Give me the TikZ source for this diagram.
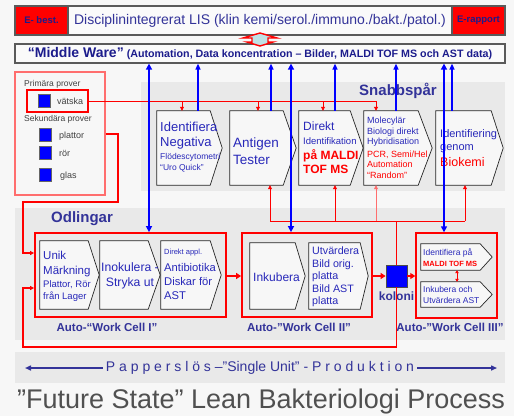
\documentclass[tikz,border=0pt]{standalone}
\usepackage{fontspec}
\setmainfont{Liberation Sans}
\usetikzlibrary{arrows.meta,fit}

\newcommand\setfs[2]{\fontsize{#1}{#2}\selectfont}

\definecolor{bgc}{RGB}{247,247,247}
\definecolor{zone}{RGB}{233,233,233}
\definecolor{hdblue}{RGB}{51,51,153}
\definecolor{txblue}{RGB}{40,40,185}
\definecolor{navy}{RGB}{28,28,140}
\definecolor{lnblue}{RGB}{0,0,255}
\definecolor{framegray}{RGB}{90,90,90}
\definecolor{paleblue}{RGB}{190,225,228}
\definecolor{softred}{RGB}{255,110,110}
\definecolor{titlegray}{RGB}{80,80,80}

% chevron body: name, two corners of the rectangular part, depth of the point
\newcommand\chevron[4]{%
  \node[fit={#2 #3}, inner sep=0pt] (#1) {};
  \filldraw[chevstyle] (#1.north west) -- (#1.north east) -- ([xshift=#4]#1.east)
    -- (#1.south east) -- (#1.south west) -- cycle;
}

\tikzset{
  zonebg/.style={inner sep=0pt, fill=zone, draw=none},
  topbar/.style={inner sep=0pt, draw=framegray, line width=1.2pt, fill=white!98!black},
  chevstyle/.style={draw=black!85, fill=white!97!black, line width=0.7pt},
  cellframe/.style={inner sep=0pt, draw=red, line width=1.8pt},
  btxt/.style={text=txblue, align=left, inner sep=0pt, anchor=west},
  rtxt/.style={text=red, align=left, inner sep=0pt, anchor=west},
  zonetitle/.style={text=hdblue, inner sep=0pt, font=\bfseries\setfs{15}{18}},
  cellname/.style={text=hdblue, inner sep=0pt, font=\bfseries\setfs{11.5}{13}},
  specimen/.style={fill=lnblue, draw=black!60, line width=0.6pt, minimum width=12pt,
    minimum height=13pt, inner sep=0pt},
  sampletxt/.style={anchor=west, inner sep=0pt, text=black!75},
  redhead/.style={-{Triangle[width=4pt,length=4pt]}},
  uplink/.style={draw=lnblue, line width=1.3pt, -{Triangle[width=5pt,length=6pt]}},
  duplex/.style={draw=lnblue, line width=2.3pt,
    {Triangle[width=6pt,length=6pt]}-{Triangle[width=6pt,length=6pt]}},
  feedline/.style={draw=red, line width=0.7pt},
  returnline/.style={draw=red, line width=1.3pt},
  cellflow/.style={draw=red, line width=2pt, -{Triangle[width=6pt,length=5pt]}},
}

\begin{document}
\begin{tikzpicture}[x=1pt, y=-1pt]
\useasboundingbox (0,0) rectangle (514,416);
\fill[bgc] (0,0) rectangle (514,416);

% ---------- shaded zones ----------
\node[fit={(141,82) (505,191)}, zonebg] (snabb) {};
\node[fit={(15,208) (505,340)}, zonebg] (odl) {};
\node[fit={(15,352) (505,383)}, zonebg] (band) {};

% ---------- LIS bar ----------
\node[fit={(15,6) (505,35)}, topbar] (lis) {};
\node[fit={(15,6) (68,35)}, topbar, fill=red] (ebest) {};
\node[fit={(452,6) (505,35)}, topbar, fill=red] (erap) {};
\node[text=navy, font=\bfseries\setfs{9.5}{11}] at (ebest.center) {E- best.};
\node[text=navy, font=\bfseries\setfs{9.5}{11}] at (erap.center) {E-rapport};
\node[text=hdblue, font=\setfs{14}{16}] at (260,20.5) {Disciplinintegrerat LIS (klin kemi/serol./immuno./bakt./patol.)};

% ---------- Middle Ware bar ----------
\node[fit={(15,44) (505,63)}, topbar] (mw) {};
\node[text=navy, font=\bfseries\setfs{10.7}{12}] at (mw.center)
  {{\setfs{14}{14}“Middle Ware”} (Automation, Data koncentration – Bilder, MALDI TOF MS och AST data)};

% link between LIS and Middle Ware
\filldraw[draw=red, fill=paleblue, line width=1.4pt, line join=miter]
  (260,33) -- (277,38) -- (268,38) -- (268,42) -- (273,42) -- (260,46)
  -- (247,42) -- (252,42) -- (252,38) -- (243,38) -- cycle;

% ---------- specimens ----------
\node[fit={(15,72) (105,195)}, inner sep=0pt, draw=softred, line width=1.2pt] (sample) {};
\node[sampletxt, font=\setfs{8.5}{10}] at (24,84) {Primära prover};
\node[fit={(27,90) (88,112)}, inner sep=0pt, draw=red, line width=1.2pt] (vat) {};
\node[specimen] (qv) at (44.5,100.5) {};
\node[sampletxt, font=\setfs{9}{10}] at (57,101) {vätska};
\node[sampletxt, font=\setfs{8.5}{10}] at (24,119) {Sekundära prover};
\node[specimen] (qp) at (45,135) {};
\node[sampletxt, font=\setfs{9}{10}] at (59,136) {plattor};
\node[specimen] (qr) at (45,152.5) {};
\node[sampletxt, font=\setfs{9}{10}] at (59,153) {rör};
\node[specimen] (qg) at (45,175) {};
\node[sampletxt, font=\setfs{9}{10}] at (60,176) {glas};

% ---------- Snabbspår ----------
\node[zonetitle] at (398,91) {Snabbspår};

\chevron{sA}{(157,111)}{(210,185)}{12pt}
\node[btxt, font=\setfs{13}{15}] at (160,135.5) {Identifiera\\Negativa};
\node[btxt, font=\setfs{8.5}{11.5}] at (160,162.5) {Flödescytometri\\“Uro Quick”};

\chevron{sB}{(230,111)}{(283,185)}{13pt}
\node[btxt, font=\setfs{13.5}{17}] at (233,151.5) {Antigen\\Tester};

\chevron{sC}{(299,111)}{(350,185)}{13pt}
\node[btxt, font=\setfs{12}{14}] at (303,126) {Direkt};
\node[btxt, font=\setfs{9.5}{11}] at (303,141) {Identifikation};
\node[rtxt, font=\bfseries\setfs{12}{14}] at (303,162) {på MALDI\\TOF MS};

\chevron{sD}{(364,111)}{(418,185)}{14pt}
\node[btxt, font=\setfs{9}{10.5}] at (367,132) {Molecylär\\Biologi direkt\\Hybridisation};
\node[rtxt, font=\setfs{9}{10.5}] at (367,164.5) {PCR, Semi/Hel\\Automation\\“Random”};

\chevron{sE}{(436,111)}{(491,185)}{12pt}
\node[btxt, font=\setfs{11}{12.5}] at (440,141) {Identifiering\\genom};
\node[rtxt, font=\setfs{12.5}{14}] at (440,162) {Biokemi};

% ---------- Odlingar ----------
\node[zonetitle] at (82,219) {Odlingar};

\node[fit={(35,233) (226,317)}, cellframe] (wc1) {};
\chevron{wA}{(40,241)}{(88,309)}{11pt}
\node[btxt, font=\setfs{11.5}{15}] at (43,264.5) {Unik\\Märkning};
\node[btxt, font=\setfs{9.5}{12}] at (43,291) {Plattor, Rör\\från Lager};
\chevron{wB}{(100,241)}{(148,309)}{12pt}
\node[text=txblue, align=center, inner sep=0pt, font=\setfs{12.2}{15}] at (130,275.5) {Inokulera -\\Stryka ut};
\chevron{wC}{(161,241)}{(210,309)}{11pt}
\node[btxt, font=\setfs{7.5}{9}] at (164,253) {Direkt appl.};
\node[btxt, font=\setfs{11.2}{14}] at (164,281) {Antibiotika\\Diskar för\\AST};
\node[cellname] at (107,327) {Auto-“Work Cell I”};

\node[fit={(242,233) (372,317)}, cellframe] (wc2) {};
\chevron{wD}{(250,243)}{(295,309)}{10pt}
\node[btxt, font=\setfs{12}{14}] at (253,277) {Inkubera};
\chevron{wE}{(309,243)}{(360,309)}{8pt}
\node[btxt, font=\setfs{10.7}{12.5}] at (312,277) {Utvärdera\\Bild orig.\\platta\\Bild AST\\platta};
\node[cellname] at (299,327) {Auto-"Work Cell II"};

\node[fit={(386,265) (407,287)}, inner sep=0pt, fill=lnblue, draw=black!70, line width=0.8pt] (kol) {};
\node[text=hdblue, font=\bfseries\setfs{12}{13}] at (396.5,296) {koloni};

\node[fit={(416,233) (497,318)}, cellframe, line width=1.4pt] (wc3) {};
\chevron{wF}{(421,244)}{(480,270)}{12pt}
\node[btxt, font=\setfs{8.5}{10}] at (423,253) {Identifiera på};
\node[rtxt, font=\bfseries\setfs{7.5}{9}] at (423,263.5) {MALDI TOF MS};
\chevron{wG}{(421,282)}{(480,307)}{12pt}
\node[btxt, font=\setfs{8.5}{11}] at (423,294.5) {Inkubera och\\Utvärdera AST};
\node[cellname] at (450,327) {Auto-"Work Cell III"};

% ---------- production band and title ----------
\node[text=hdblue, inner sep=0pt, font=\setfs{14}{16}] (prod) at (260,368)
  {P a p p e r s l ö s –”Single Unit” - P r o d u k t i o n};
\draw[hdblue, line width=1.4pt, -{Triangle[width=5pt,length=6pt]}]
  ([xshift=-3pt]prod.west) -- (prod.west -| 25,0);
\draw[hdblue, line width=1.4pt, -{Triangle[width=5pt,length=6pt]}]
  ([xshift=3pt]prod.east) -- (prod.east -| 497,0);
\node[text=titlegray, inner sep=0pt, font=\setfs{27}{30}] (title) at (261,402)
  {”Future State” Lean Bakteriologi Process};

% ---------- red connectors ----------
% primary specimen feeds the rapid track
\draw[feedline, line width=1pt, redhead] (vat.east) -| (sD.north -| 376,0);
\foreach \x/\b in {182/sA, 258/sB, 323/sC}
  \draw[feedline, redhead] (vat.east -| \x,0) -- (\b.north -| \x,0);

% results from the rapid track collect on a bus
\coordinate (bus) at (0,221);
\draw[feedline] (bus -| 270,0) -- (bus -| 465,0);
\foreach \x/\b in {270/sB, 335/sC, 465/sE}
  \draw[feedline, redhead] (bus -| \x,0) -- (\b.south -| \x,0);
\draw[feedline, draw=softred, redhead] (bus -| 376,0) -- (sD.south -| 376,0);
\draw[feedline] (bus -| kol.center) -- (kol.north);

% colony returns to work cell I
\draw[returnline, redhead] (kol.south) -- (kol.center |- 0,347) -| (23,288) -- (wc1.west |- 0,288);
% secondary specimens into work cell I
\draw[returnline, redhead] (sample.east |- 0,134) -- (118,134) |- (23,202) |- (wc1.west |- 0,253);

% flow between work cells
\draw[cellflow] (wc1.east |- 0,276) -- (wc2.west |- 0,276);
\draw[cellflow] (wc2.east |- 0,276) -- (kol.west);
\draw[cellflow] (kol.east) -- (wc3.west |- 0,276);
\draw[red, line width=0.9pt, {Triangle[width=3.5pt,length=3pt]}-{Triangle[width=3.5pt,length=3pt]}]
  (wF.south -| 457,0) -- (wG.north -| 457,0);

% ---------- blue data links to Middle Ware ----------
\foreach \x/\b in {198/sA, 271/sB, 335/sC, 396/sD, 452/sE}
  \draw[uplink] (\b.north -| \x,0) -- (mw.south -| \x,0);
\foreach \x/\b in {149/wc1, 291/wc2, 444/wc3}
  \draw[duplex] (\b.north -| \x,0) -- (mw.south -| \x,0);

\end{tikzpicture}
\end{document}
